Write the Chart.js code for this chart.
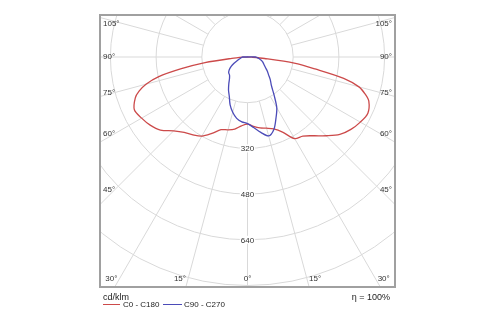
<!DOCTYPE html>
<html>
<head>
<meta charset="utf-8">
<script src="https://cdn.jsdelivr.net/npm/chart.js@4.4.1/dist/chart.umd.min.js"></script>
<style>
body { margin: 0; background: #fff; }
#wrap { position: relative; width: 500px; height: 325px; }
#wrap canvas { position: absolute; left: 0; top: 0; }
.txt { position: absolute; font-family: "Liberation Sans", Arial, sans-serif; color: #222; white-space: nowrap; line-height: 10px; }
.key { position: absolute; height: 1px; }
</style>
</head>
<body>
<div id="wrap">
  <canvas id="polar" width="500" height="325"></canvas>
  <div class="txt" style="left:103px; top:292px; font-size:9px;">cd/klm</div>
  <div class="txt" style="right:110px; top:292px; font-size:9px;">η = 100%</div>
  <div class="key" style="left:103px; top:304px; width:17px; background:#cc4a4a;"></div>
  <div class="txt" style="left:123px; top:300px; font-size:8px;">C0 - C180</div>
  <div class="key" style="left:163px; top:304px; width:19px; background:#4b4bb8;"></div>
  <div class="txt" style="left:184px; top:300px; font-size:8px;">C90 - C270</div>
</div>
<script>
// gamma angles (deg from nadir), shared by all four half-planes
const gammas = [0, 5, 10, 15, 20, 25, 30, 35, 40, 45, 50, 55, 60, 65, 70, 72.5, 75, 77.5, 80, 82.5, 85, 87.5, 90];

// intensities in cd/klm
const c0   = [235, 244, 252, 258, 268, 290, 330, 338, 360, 390, 422, 442, 456, 465, 452, 432, 404, 345, 240, 165, 60, 15, 0];
const c180 = [235, 242, 256, 264, 271, 295, 320, 333, 345, 366, 398, 416, 428, 437, 418, 398, 368, 320, 235, 150, 55, 15, 0];
const c90  = [234, 248, 268, 286, 270, 236, 205, 162, 130, 113, 96, 84, 72, 64, 58, 55, 52, 48, 44, 40, 36, 32, 28];
const c270 = [233, 228, 218, 200, 178, 151, 133, 114, 98, 89, 86, 78, 66, 52, 40, 35, 31, 28, 25, 23, 21, 20, 19];

const ringValues = [160, 320, 480, 640, 800, 960];
const ringLabels = [320, 480, 640];
const angleStep = 15;
const sideAngles = [45, 60, 75, 90, 105];
const bottomAngles = [0, 15, 30];

const gridColor = '#d9d9d9';
const frameColor = '#a0a0a0';
const labelFont = '8px "Liberation Sans", Arial, sans-serif';

// cd/klm per pixel (160 ring is about 45.7 px)
const unitsPerPx = 160 / 45.7;

const rad = (deg) => deg * Math.PI / 180;

// build one closed outline: left half-plane from 90 down to 0, right half from 0 up to 90
const buildOutline = (leftVals, rightVals) => {
    let pts = [];
    for (let i = gammas.length - 1; i >= 0; i--) {
        const t = rad(gammas[i]);
        pts.push({x: -leftVals[i] * Math.sin(t), y: -leftVals[i] * Math.cos(t)});
    }
    for (let i = 1; i < gammas.length; i++) {
        const t = rad(gammas[i]);
        pts.push({x: rightVals[i] * Math.sin(t), y: -rightVals[i] * Math.cos(t)});
    }
    pts.push(pts[0]);
    return pts;
}

const polarGrid = {
    id: 'polarGrid',
    beforeDatasetsDraw(chart) {
        const {ctx, chartArea: a, scales: {x, y}} = chart;
        const cx = x.getPixelForValue(0);
        const cy = y.getPixelForValue(0);
        ctx.save();
        ctx.beginPath();
        ctx.rect(a.left, a.top, a.right - a.left, a.bottom - a.top);
        ctx.clip();
        ctx.strokeStyle = gridColor;
        ctx.lineWidth = 1;

        ringValues.forEach(r => {
            const rx = x.getPixelForValue(r) - cx;
            const ry = cy - y.getPixelForValue(r);
            ctx.beginPath();
            ctx.ellipse(cx, cy, rx, ry, 0, 0, Math.PI * 2);
            ctx.stroke();
        });

        // spokes start at the first ring
        for (let g = 0; g < 360; g += angleStep) {
            const t = rad(g);
            const r0 = ringValues[0], r1 = 2000;
            ctx.beginPath();
            ctx.moveTo(x.getPixelForValue(r0 * Math.sin(t)), y.getPixelForValue(-r0 * Math.cos(t)));
            ctx.lineTo(x.getPixelForValue(r1 * Math.sin(t)), y.getPixelForValue(-r1 * Math.cos(t)));
            ctx.stroke();
        }

        // ring values on the nadir spoke
        ctx.font = labelFont;
        ctx.textAlign = 'center';
        ctx.textBaseline = 'middle';
        ringLabels.forEach(v => {
            const py = y.getPixelForValue(-v);
            const w = ctx.measureText(String(v)).width;
            ctx.fillStyle = '#fff';
            ctx.fillRect(cx - w / 2 - 1, py - 4, w + 2, 8);
            ctx.fillStyle = '#333';
            ctx.fillText(String(v), cx, py + 0.5);
        });
        ctx.restore();
    },
    afterDatasetsDraw(chart) {
        const {ctx, chartArea: a, scales: {x, y}} = chart;
        const cx = x.getPixelForValue(0);
        const cy = y.getPixelForValue(0);
        ctx.save();
        ctx.font = labelFont;
        ctx.fillStyle = '#333';
        ctx.textBaseline = 'middle';

        sideAngles.forEach(deg => {
            const t = rad(deg);
            [-1, 1].forEach(side => {
                const dx = (side > 0 ? a.right - cx : cx - a.left) - 15;
                const py = Math.max(a.top + 9, cy + dx * Math.cos(t) / Math.sin(t));
                ctx.textAlign = side > 0 ? 'right' : 'left';
                ctx.fillText(deg + '°', side > 0 ? a.right - 3 : a.left + 3, py);
            });
        });

        const by = a.bottom - 8;
        bottomAngles.forEach(deg => {
            const off = (by - cy) * Math.tan(rad(deg));
            const txt = deg + '°';
            const w = ctx.measureText(txt).width;
            if (deg === 0) {
                ctx.textAlign = 'center';
                ctx.fillText(txt, cx, by);
                return;
            }
            ctx.textAlign = 'left';
            ctx.fillText(txt, Math.max(a.left + 3, cx - off - 2 - w), by);
            ctx.fillText(txt, Math.min(a.right - 3 - w, cx + off + 2), by);
        });

        ctx.strokeStyle = frameColor;
        ctx.lineWidth = 2;
        ctx.strokeRect(a.left, a.top, a.right - a.left, a.bottom - a.top);
        ctx.restore();
    }
};

const config = {
    type: 'scatter',
    data: {
        datasets: [
            {
                label: 'C90 - C270',
                data: buildOutline(c270, c90),
                borderColor: '#4b4bb8',
                borderWidth: 1.3,
                showLine: true,
                pointRadius: 0,
                tension: 0.3
            },
            {
                label: 'C0 - C180',
                data: buildOutline(c180, c0),
                borderColor: '#cc4a4a',
                borderWidth: 1.3,
                showLine: true,
                pointRadius: 0,
                tension: 0.3
            }
        ]
    },
    options: {
        responsive: false,
        animation: false,
        layout: {padding: {left: 100, top: 15, right: 105, bottom: 38}},
        scales: {
            x: {type: 'linear', display: false, min: -147.5 * unitsPerPx, max: 147.5 * unitsPerPx},
            y: {type: 'linear', display: false, min: -230 * unitsPerPx, max: 42 * unitsPerPx}
        },
        plugins: {
            legend: {display: false},
            tooltip: {enabled: false}
        }
    },
    plugins: [polarGrid]
};

new Chart(document.getElementById('polar').getContext('2d'), config);
</script>
</body>
</html>
